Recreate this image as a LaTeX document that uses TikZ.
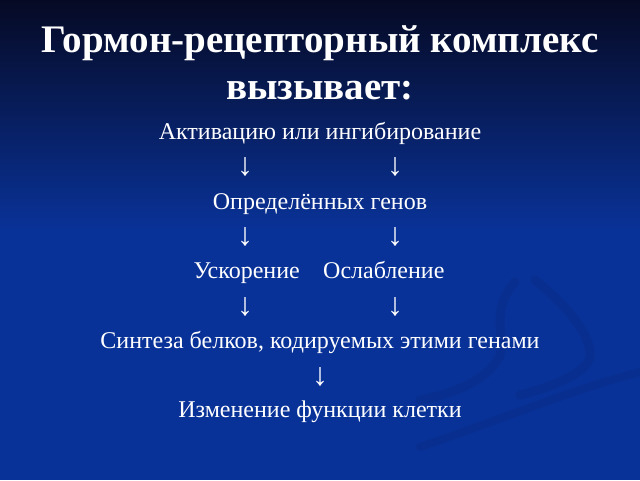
\documentclass[tikz,border=0pt]{standalone}
\usepackage{fontspec}
\setmainfont{Liberation Serif}
\begin{document}
\begin{tikzpicture}[x=1pt,y=-1pt,
  ttl/.style={text=white,font=\fontsize{39}{42}\selectfont\bfseries,inner sep=0pt,anchor=base},
  body/.style={text=white,font=\fontsize{24}{26}\selectfont,inner sep=0pt,anchor=base},
  arr/.style={text=white,font=\fontsize{32}{34}\selectfont,inner sep=0pt,anchor=center}]
\definecolor{bgtop}{RGB}{6,10,36}
\definecolor{bgbot}{RGB}{9,50,152}
\definecolor{swirl}{RGB}{6,36,120}
\useasboundingbox (0,0) rectangle (640,480);
\shade[top color=bgtop,bottom color=bgbot] (0,0) rectangle (640,230);
\fill[bgbot] (0,229) rectangle (640,480);
% faint decorative swirl
\begin{scope}[swirl,line cap=round,opacity=0.25]
\draw[line width=9pt] (515,282) .. controls (490,310) and (505,335) .. (500,355) .. controls (490,380) and (450,395) .. (420,400);
\draw[line width=9pt] (535,280) .. controls (560,300) and (590,330) .. (590,355) .. controls (590,370) and (560,385) .. (520,395);
\draw[line width=8pt] (420,447) .. controls (500,420) and (570,390) .. (640,372);
\end{scope}
% title
\node[ttl] (t1) at (320,52) {Гормон-рецепторный комплекс};
\node[ttl] (t2) at (320,99) {вызывает:};
% body
\node[body] (l1) at (320,139) {Активацию или ингибирование};
\node[arr] (a1l) at (245,167) {↓};
\node[arr] (a1r) at (395,167) {↓};
\node[body] (l2) at (320,209) {Определённых генов};
\node[arr] (a2l) at (245,237) {↓};
\node[arr] (a2r) at (395,237) {↓};
\node[body,anchor=base east] (l3a) at (300,278) {Ускорение};
\node[body,anchor=base west] (l3b) at (323,278) {Ослабление};
\node[arr] (a3l) at (245,307) {↓};
\node[arr] (a3r) at (395,307) {↓};
\node[body] (l4) at (320,348) {Синтеза белков, кодируемых этими генами};
\node[arr] (a4) at (320,377) {↓};
\node[body] (l5) at (320,417) {Изменение функции клетки};
\end{tikzpicture}
\end{document}
